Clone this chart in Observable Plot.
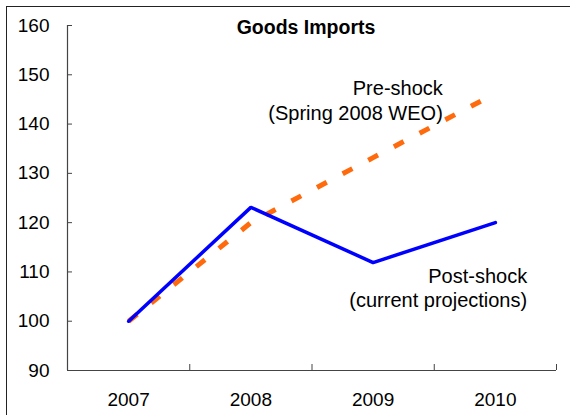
<!DOCTYPE html>
<html>
<head>
<meta charset="utf-8">
<script src="https://cdn.jsdelivr.net/npm/d3@7"></script>
<script src="https://cdn.jsdelivr.net/npm/@observablehq/plot@0.6"></script>
<style>
  html, body { margin: 0; padding: 0; background: #fff; }
  #wrap { position: relative; width: 570px; height: 415px; overflow: hidden; }
  #border { position: absolute; left: 6px; top: 6px; width: 700px; height: 600px;
            border-left: 1.5px solid #222; border-top: 1.5px solid #222; pointer-events: none; }
  svg { font-family: "Liberation Sans", Arial, sans-serif; }
</style>
</head>
<body>
<div id="wrap"><div id="border"></div></div>
<script>
const title = "Goods Imports";
const years = [2007, 2008, 2009, 2010];
const postShock = [100, 123.1, 111.9, 120.0];
const preShock = [100, 120.0, 133.2, 146.2];
const yTicks = [90, 100, 110, 120, 130, 140, 150, 160];
const bandEdges = [2006.5, 2007.5, 2008.5, 2009.5, 2010.5];
const preLabel = "Pre-shock\n(Spring 2008 WEO)";
const postLabel = "Post-shock\n(current projections)";

const post = years.map((y, i) => ({year: y, value: postShock[i]}));
const pre = years.map((y, i) => ({year: y, value: preShock[i]}));

const W = 570, H = 415;
const mL = 67, mR = 14, mT = 25, mB = 45;
const plotW = W - mL - mR, plotH = H - mT - mB;

const chart = Plot.plot({
  width: W, height: H,
  marginLeft: mL, marginRight: mR, marginTop: mT, marginBottom: mB,
  style: {fontFamily: "Liberation Sans, Arial, sans-serif", background: "transparent", overflow: "visible"},
  x: {domain: [2006.5, 2010.5], label: null},
  y: {domain: [90, 160], label: null},
  marks: [
    Plot.axisY(yTicks, {tickSize: 0, tickPadding: 18, fontSize: 19, fill: "#000", label: null, tickFormat: d => String(d)}),
    Plot.axisX(years, {tickSize: 0, tickPadding: 22, fontSize: 19, fill: "#000", label: null, tickFormat: d => String(d)}),
    Plot.tickY(yTicks, {y: d => d, insetRight: plotW - 5, stroke: "#444", strokeWidth: 1}),
    Plot.tickX(bandEdges, {x: d => d, insetTop: plotH - 6, stroke: "#444", strokeWidth: 1}),
    Plot.ruleX([2006.5], {stroke: "#444", strokeWidth: 1.2}),
    Plot.ruleY([90], {stroke: "#444", strokeWidth: 1.2}),
    Plot.line(pre, {x: "year", y: "value", stroke: "#FF6A0D", strokeWidth: 5, strokeDasharray: "11,18", strokeLinecap: "butt"}),
    Plot.line(post, {x: "year", y: "value", stroke: "#0000FF", strokeWidth: 3.5, strokeLinejoin: "miter"}),
    Plot.text([title], {frameAnchor: "top", dx: -6, dy: -5, lineAnchor: "top", fontSize: 19.5, fontWeight: "bold", fill: "#000"}),
    Plot.text([preLabel], {x: () => 2009.57, y: () => 149.5, textAnchor: "end", lineAnchor: "top", fontSize: 20, lineHeight: 1.24, fill: "#000"}),
    Plot.text([postLabel], {x: () => 2010.26, y: () => 111.2, textAnchor: "end", lineAnchor: "top", fontSize: 20, lineHeight: 1.2, fill: "#000"})
  ]
});
document.getElementById("wrap").appendChild(chart);
chart.style.position = "absolute";
chart.style.left = "0px";
chart.style.top = "0px";
</script>
</body>
</html>
